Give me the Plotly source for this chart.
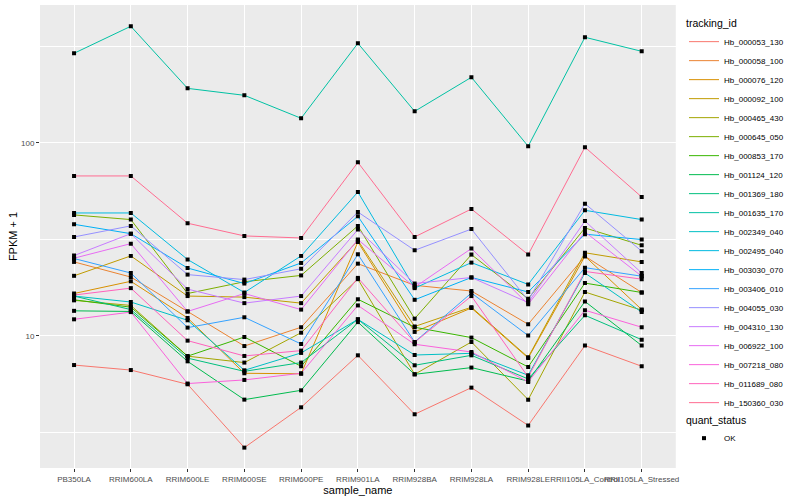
import plotly.graph_objects as go

samples = ["PB350LA", "RRIM600LA", "RRIM600LE", "RRIM600SE", "RRIM600PE", "RRIM901LA",
           "RRIM928BA", "RRIM928LA", "RRIM928LE", "RRII105LA_Control", "RRII105LA_Stressed"]

tracking_ids = ["Hb_000053_130", "Hb_000058_100", "Hb_000076_120", "Hb_000092_100", "Hb_000465_430",
                "Hb_000645_050", "Hb_000853_170", "Hb_001124_120", "Hb_001369_180", "Hb_001635_170",
                "Hb_002349_040", "Hb_002495_040", "Hb_003030_070", "Hb_003406_010", "Hb_004055_030",
                "Hb_004310_130", "Hb_006922_100", "Hb_007218_080", "Hb_011689_080", "Hb_150360_030"]

colors = ["#F8766D", "#EA8331", "#D89000", "#C09B00", "#A3A500", "#7CAE00", "#39B600", "#00BB4E",
          "#00BF7D", "#00C1A3", "#00BFC4", "#00BAE0", "#00B0F6", "#35A2FF", "#9590FF", "#C77CFF",
          "#E76BF3", "#FA62DB", "#FF62BC", "#FF6C91"]

Hb_000053_130 = [7.07, 6.66, 5.62, 2.64, 4.27, 7.94, 3.93, 5.40, 3.44, 8.92, 6.97]
Hb_000058_100 = [24.2, 20.2, 13.4, 8.87, 11.1, 23.7, 18.3, 17.1, 11.5, 25.9, 16.8]
Hb_000076_120 = [16.6, 19.2, 12.4, 6.41, 6.37, 30.7, 10.5, 13.96, 7.69, 25.9, 13.7]
Hb_000092_100 = [20.5, 26.0, 16.1, 15.9, 14.8, 31.3, 11.2, 14.1, 7.76, 27.0, 24.2]
Hb_000465_430 = [15.3, 14.4, 7.86, 7.28, 10.4, 19.7, 6.33, 9.31, 4.68, 16.9, 13.6]
Hb_000645_050 = [42.4, 40.1, 16.6, 19.1, 20.6, 37.2, 12.3, 26.4, 15.6, 36.3, 29.5]
Hb_000853_170 = [15.4, 14.1, 7.86, 9.88, 6.97, 15.5, 11.1, 9.81, 6.91, 18.8, 16.8]
Hb_001124_120 = [13.5, 13.4, 7.39, 4.68, 5.23, 11.8, 6.33, 6.86, 5.84, 15.1, 8.92]
Hb_001369_180 = [16.1, 13.7, 7.68, 6.56, 7.28, 12.2, 7.05, 7.94, 5.99, 12.8, 9.57]
Hb_001635_170 = [291.6, 402.5, 191.9, 176.6, 134.3, 328.6, 145.9, 219.0, 96.2, 353.0, 298.5]
Hb_002349_040 = [16.1, 15.0, 12.06, 6.64, 8.17, 12.2, 7.97, 8.13, 6.26, 21.2, 13.3]
Hb_002495_040 = [43.4, 43.4, 24.9, 16.8, 26.0, 55.7, 17.7, 24.0, 18.5, 44.8, 40.1]
Hb_003030_070 = [37.9, 33.9, 22.5, 18.7, 23.9, 41.7, 15.4, 20.1, 16.9, 33.7, 31.6]
Hb_003406_010 = [25.2, 21.2, 11.05, 12.5, 9.09, 26.5, 9.31, 16.7, 10.05, 22.6, 20.4]
Hb_004055_030 = [32.6, 37.2, 20.8, 19.6, 22.3, 43.9, 27.8, 35.8, 15.3, 48.5, 27.5]
Hb_004310_130 = [26.1, 33.9, 17.5, 14.8, 16.1, 35.6, 18.7, 20.1, 14.9, 39.4, 21.2]
Hb_006922_100 = [25.3, 30.1, 13.4, 16.6, 13.7, 31.6, 17.9, 28.4, 14.6, 34.6, 20.4]
Hb_007218_080 = [12.2, 13.3, 5.67, 5.92, 6.41, 14.4, 9.06, 8.26, 5.78, 13.6, 11.1]
Hb_011689_080 = [16.3, 17.7, 9.46, 7.88, 8.40, 20.0, 9.27, 16.1, 6.13, 21.6, 19.7]
Hb_150360_030 = [67.5, 67.5, 38.4, 33.0, 32.2, 79.4, 32.6, 45.5, 26.4, 95.1, 52.5]

series = [Hb_000053_130, Hb_000058_100, Hb_000076_120, Hb_000092_100, Hb_000465_430,
          Hb_000645_050, Hb_000853_170, Hb_001124_120, Hb_001369_180, Hb_001635_170,
          Hb_002349_040, Hb_002495_040, Hb_003030_070, Hb_003406_010, Hb_004055_030,
          Hb_004310_130, Hb_006922_100, Hb_007218_080, Hb_011689_080, Hb_150360_030]

FONT = "Liberation Sans, Arial, sans-serif"

fig = go.Figure()
for name, col, vals in zip(tracking_ids, colors, series):
    fig.add_trace(go.Scatter(x=samples, y=vals, mode="lines", name=name,
                             line=dict(color=col, width=1), legend="legend"))

# all points, black squares (quant_status = OK)
all_x, all_y = [], []
for vals in series:
    all_x += samples
    all_y += vals
fig.add_trace(go.Scatter(x=all_x, y=all_y, mode="markers", name="OK", legend="legend2",
                         marker=dict(symbol="square", size=4, color="black")))

fig.update_layout(
    width=800, height=500,
    margin=dict(l=40, r=119, t=5, b=32),
    paper_bgcolor="white", plot_bgcolor="#EBEBEB",
    font=dict(family=FONT, size=9, color="black"),
    showlegend=True,
    legend=dict(title=dict(text="tracking_id", font=dict(size=10.5, color="black")),
                font=dict(size=8, color="black"), xref="container", yref="container",
                x=0.855, y=0.973, xanchor="left", yanchor="top", tracegroupgap=0,
                itemwidth=30, bgcolor="rgba(0,0,0,0)", maxheight=500),
    legend2=dict(title=dict(text="quant_status", font=dict(size=10.5, color="black")),
                 font=dict(size=8, color="black"), xref="container", yref="container",
                 x=0.855, y=0.18, xanchor="left", yanchor="top", bgcolor="rgba(0,0,0,0)"),
    xaxis=dict(type="category", range=[-0.6, 10.6], showgrid=True, gridcolor="white",
               gridwidth=1.1, ticks="outside", ticklen=3, tickcolor="#333333", tickangle=0,
               tickfont=dict(size=8, color="#4D4D4D", family=FONT), zeroline=False,
               title=dict(text="sample_name", font=dict(size=11, color="black"), standoff=1)),
    yaxis=dict(type="log", range=[0.316, 2.715], tickvals=[10, 100], ticktext=["10", "100"],
               showgrid=True, gridcolor="white", gridwidth=1.1, ticks="outside", ticklen=3,
               tickcolor="#333333", tickfont=dict(size=8, color="#4D4D4D", family=FONT),
               zeroline=False,
               minor=dict(tickmode="array", tickvals=[3.1623, 31.623, 316.23], showgrid=True,
                          gridcolor="white", gridwidth=0.55, ticks=""),
               title=dict(text="FPKM + 1", font=dict(size=11, color="black"), standoff=1)),
)

fig.write_html("out.html", config={"displayModeBar": False},
               post_script="document.body.style.margin='0';")
